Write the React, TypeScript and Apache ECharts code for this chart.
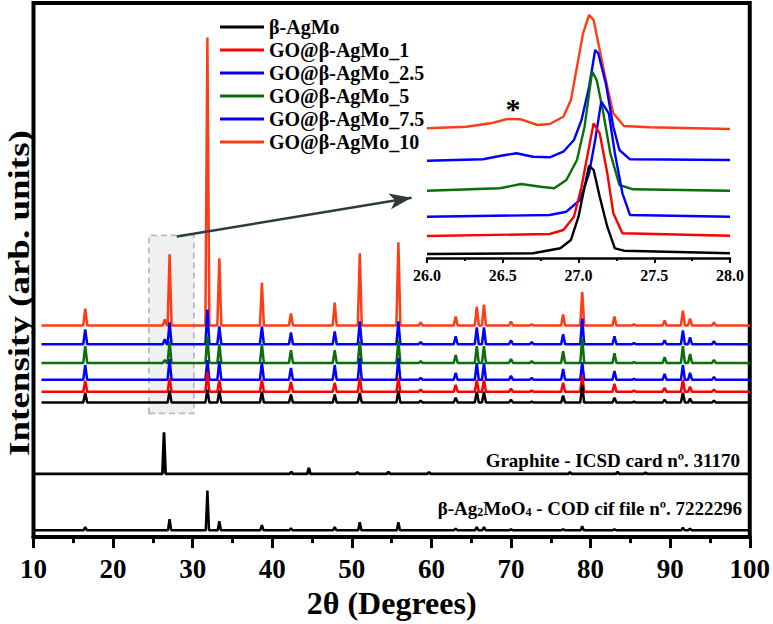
import React, { useEffect, useRef } from 'react';
import * as echarts from 'echarts';

const FONT = '"Liberation Serif", "Times New Roman", serif';

// ---------- legend / series ----------
const seriesNames = ['β-AgMo', 'GO@β-AgMo_1', 'GO@β-AgMo_2.5', 'GO@β-AgMo_5', 'GO@β-AgMo_7.5', 'GO@β-AgMo_10'];
const seriesColors = ['#000000', '#ff0000', '#0000ff', '#0a6e0a', '#0000ff', '#ff3c14'];
// vertical stacking offsets of each pattern (arb. units)
const stackOffsets = [136, 147, 159, 176, 195, 214];

// ---------- main patterns: peak positions (2θ) and heights ----------
const peakPositions = [16.5, 26.5, 27.1, 31.85, 33.35, 38.7, 42.35, 47.85, 51.0, 55.85, 58.65, 63.05, 65.7, 66.6, 70.0, 72.6, 76.55, 78.95, 83.0, 85.45, 89.3, 91.6, 92.5, 95.5];
const hAgMo = [10, 0, 12, 13, 12, 11, 8, 8, 10, 12, 2, 5, 11, 11, 3, 1, 7, 18, 5, 1, 3, 10, 4, 2];
const hGO1 = [11, 0, 14, 20, 12, 12, 10, 9, 14, 14, 2, 7, 12, 12, 3, 1, 9, 16, 8, 1, 4, 12, 5, 2];
const hGO25 = [15, 0, 21, 20, 19, 18, 12, 15, 22, 22, 2, 7, 17, 17, 4, 2, 11, 18, 9, 1, 6, 15, 7, 3];
const hGO5 = [17, 3, 22, 27, 19, 19, 13, 13, 22, 23, 2, 8, 17, 17, 4, 2, 12, 25, 10, 1, 6, 17, 9, 3];
const hGO75 = [15, 5, 22, 35, 18, 18, 12, 13, 23, 23, 2, 8, 17, 17, 4, 2, 10, 26, 8, 1, 4, 14, 7, 3];
const hGO10 = [17, 6, 72, 291, 68, 43, 12, 23, 73, 84, 3, 9, 19, 21, 4, 1, 11, 34, 9, 1, 5, 15, 7, 3];
const sampleHeights = [hAgMo, hGO1, hGO25, hGO5, hGO75, hGO10];

// ---------- reference patterns ----------
const graphiteOffset = 64;
const graphitePositions = [26.4, 42.4, 44.6, 50.7, 54.6, 59.7, 77.4, 83.4, 86.9];
const graphiteHeights = [42, 2, 6, 1.5, 2, 1.5, 1.5, 2, 1];
const codOffset = 7;
const codPositions = [16.5, 27.1, 31.85, 33.35, 38.7, 42.35, 47.85, 51.0, 55.85, 63.05, 65.7, 66.6, 70.0, 76.55, 78.95, 83.0, 91.6, 92.5];
const codHeights = [3, 11, 40, 9, 5, 2, 3, 8, 8, 1.5, 3, 3, 1, 1, 4, 1, 2.5, 1.5];

// ---------- inset (26–28°) profiles ----------
const insetAgMo = [[26.0, 4], [26.7, 4.7], [26.88, 9.7], [26.95, 18], [27.0, 41.3], [27.04, 71.3], [27.07, 92.3], [27.1, 88], [27.14, 61.3], [27.19, 31.3], [27.24, 9.7], [27.3, 7.3], [28.0, 4.7]];
const insetGO1 = [[26.0, 22], [26.81, 24], [26.9, 28], [26.97, 41.3], [27.02, 71.3], [27.07, 111.3], [27.1, 134.7], [27.14, 124.7], [27.19, 84.7], [27.23, 44.7], [27.29, 24.7], [28.0, 22.3]];
const insetGO25 = [[26.0, 41.3], [26.81, 43], [26.92, 46.3], [27.01, 58], [27.07, 84.7], [27.11, 118], [27.15, 156.3], [27.2, 144.7], [27.24, 104.7], [27.29, 64.7], [27.34, 43], [28.0, 41.3]];
const insetGO5 = [[26.0, 67.3], [26.48, 69.7], [26.62, 74], [26.75, 71.3], [26.84, 69.7], [26.92, 78], [26.99, 98], [27.04, 131.3], [27.09, 186.3], [27.12, 178], [27.16, 148], [27.21, 104.7], [27.27, 73], [27.36, 68.7], [28.0, 67.3]];
const insetGO75 = [[26.0, 97.3], [26.37, 98.7], [26.48, 102], [26.59, 104.7], [26.7, 101.3], [26.81, 100.7], [26.9, 106.3], [26.97, 118], [27.02, 138], [27.07, 171.3], [27.11, 208], [27.13, 204.7], [27.18, 174.7], [27.23, 131.3], [27.27, 108], [27.34, 98.7], [28.0, 98]];
const insetGO10 = [[26.0, 129.7], [26.26, 131.3], [26.42, 134.7], [26.53, 139], [26.62, 138.7], [26.73, 133], [26.81, 134], [26.9, 141.3], [26.95, 158], [26.99, 191.3], [27.03, 224.7], [27.07, 243], [27.1, 238], [27.14, 208], [27.19, 171.3], [27.23, 144.7], [27.3, 132], [27.47, 130.7], [28.0, 129]];
const insetProfiles = [insetAgMo, insetGO1, insetGO25, insetGO5, insetGO75, insetGO10];

// ---------- annotations (data coordinates of the main plot) ----------
const zoomBox = [[24.5, 125], [30.15, 305]];
const arrowLine = [[28.0, 304], [57.5, 343]];

function buildPattern(positions: number[], heights: number[], offset: number, start: number, end: number, hw: number) {
  const pts: number[][] = [[start, offset]];
  positions.forEach((p, i) => {
    const h = heights[i];
    if (h > 0) {
      pts.push([p - hw, offset], [p, offset + h], [p + hw, offset]);
    }
  });
  pts.push([end, offset]);
  return pts;
}

export default function App() {
  const ref = useRef<HTMLDivElement>(null);
  useEffect(() => {
    if (!ref.current) return;
    const chart = echarts.init(ref.current, undefined, { renderer: 'svg' });

    const order = [5, 4, 3, 2, 1, 0]; // upper patterns first, lower drawn on top
    const mainSeries: any[] = order.map((i) => ({
      name: seriesNames[i],
      type: 'line',
      xAxisIndex: 0,
      yAxisIndex: 0,
      showSymbol: false,
      silent: true,
      color: seriesColors[i],
      lineStyle: { color: seriesColors[i], width: 2.5 },
      data: buildPattern(peakPositions, sampleHeights[i], stackOffsets[i], 11, 100, 0.25),
      z: 3,
    }));
    const insetSeries: any[] = order.map((i) => ({
      name: seriesNames[i],
      type: 'line',
      xAxisIndex: 1,
      yAxisIndex: 1,
      showSymbol: false,
      silent: true,
      color: seriesColors[i],
      lineStyle: { color: seriesColors[i], width: 2.4 },
      data: insetProfiles[i],
      z: 3,
    }));

    const option: any = {
      animation: false,
      backgroundColor: '#ffffff',
      textStyle: { fontFamily: FONT },
      grid: [
        { left: 33.5, right: 23, top: 3, bottom: 81, show: true, borderColor: '#000', borderWidth: 4, backgroundColor: 'transparent' },
        { left: 427, right: 43, top: 8, bottom: 366, show: false },
      ],
      legend: {
        data: seriesNames,
        orient: 'vertical',
        left: 215,
        top: 12,
        itemWidth: 44,
        itemHeight: 3,
        itemGap: 3,
        icon: 'rect',
        selectedMode: false,
        textStyle: { fontFamily: FONT, fontSize: 20, fontWeight: 'bold', color: '#000', lineHeight: 20 },
      },
      xAxis: [
        {
          type: 'value', gridIndex: 0, min: 10, max: 100, interval: 10,
          axisLine: { show: true, lineStyle: { color: '#000', width: 4 } },
          axisTick: { show: true, inside: false, length: 11, lineStyle: { color: '#000', width: 3 } },
          minorTick: { show: true, splitNumber: 2, length: 6, lineStyle: { color: '#000', width: 3 } },
          splitLine: { show: false },
          axisLabel: { fontFamily: FONT, fontSize: 27, fontWeight: 'bold', color: '#000', margin: 18 },
          name: '2θ (Degrees)', nameLocation: 'middle', nameGap: 45,
          nameTextStyle: { fontFamily: FONT, fontSize: 32, fontWeight: 'bold', color: '#000' },
        },
        {
          type: 'value', gridIndex: 1, min: 26, max: 28, interval: 0.5,
          axisLine: { show: true, lineStyle: { color: '#000', width: 2.5 } },
          axisTick: { show: true, inside: false, length: 5, lineStyle: { color: '#000', width: 2 } },
          minorTick: { show: true, splitNumber: 2, length: 3, lineStyle: { color: '#000', width: 2 } },
          splitLine: { show: false },
          axisLabel: { fontFamily: FONT, fontSize: 16, fontWeight: 'bold', color: '#000', margin: 9, formatter: (v: number) => v.toFixed(1) },
        },
      ],
      yAxis: [
        { type: 'value', gridIndex: 0, min: 0, max: 540, show: false },
        { type: 'value', gridIndex: 1, min: 0, max: 250, show: false },
      ],
      graphic: [
        {
          type: 'text', x: 19, y: 293, rotation: Math.PI / 2, scaleY: 0.82,
          style: { text: 'Intensity (arb. units)', fontFamily: FONT, fontSize: 37, fontWeight: 'bold', fill: '#000', align: 'center', verticalAlign: 'middle' },
        },
        {
          type: 'text', x: 740, y: 460,
          style: { text: 'Graphite - ICSD card nº. 31170', fontFamily: FONT, fontSize: 19, fontWeight: 'bold', fill: '#000', align: 'right', verticalAlign: 'middle' },
        },
        {
          type: 'text', x: 742, y: 507,
          style: {
            text: '{n|β-Ag}{s|2}{n|MoO}{s|4}{n| - COD cif file nº. 7222296}',
            align: 'right', verticalAlign: 'middle', fill: '#000',
            rich: {
              n: { fontFamily: FONT, fontSize: 19, fontWeight: 'bold', fill: '#000', lineHeight: 22, verticalAlign: 'bottom' },
              s: { fontFamily: FONT, fontSize: 12, fontWeight: 'bold', fill: '#000', lineHeight: 12, verticalAlign: 'bottom' },
            },
          },
        },
        {
          type: 'text', x: 513, y: 108,
          style: { text: '*', fontFamily: FONT, fontSize: 30, fontWeight: 'bold', fill: '#000', align: 'center', verticalAlign: 'middle' },
        },
      ],
      series: [
        {
          type: 'line', name: 'annotations', xAxisIndex: 0, yAxisIndex: 0, data: [], z: 1, silent: true,
          markArea: {
            silent: true,
            itemStyle: { color: '#f0f0f0', borderColor: '#b3bdbd', borderWidth: 1.8, borderType: [6, 4] },
            data: [[{ coord: zoomBox[0] }, { coord: zoomBox[1] }]],
          },
          markLine: {
            silent: true,
            symbol: ['none', 'arrow'],
            symbolSize: [12, 22],
            label: { show: false },
            lineStyle: { color: '#2d3b3b', width: 2.5, type: 'solid' },
            data: [[{ coord: arrowLine[0] }, { coord: arrowLine[1] }]],
          },
        },
        ...mainSeries,
        {
          name: 'Graphite - ICSD 31170', type: 'line', xAxisIndex: 0, yAxisIndex: 0, showSymbol: false, silent: true,
          lineStyle: { color: '#000', width: 2.8 }, color: '#000',
          data: buildPattern(graphitePositions, graphiteHeights, graphiteOffset, 10, 100, 0.2), z: 3,
        },
        {
          name: 'β-Ag2MoO4 - COD 7222296', type: 'line', xAxisIndex: 0, yAxisIndex: 0, showSymbol: false, silent: true,
          lineStyle: { color: '#000', width: 2.5 }, color: '#000',
          data: buildPattern(codPositions, codHeights, codOffset, 10, 100, 0.2), z: 3,
        },
        ...insetSeries,
      ],
    };
    chart.setOption(option);
    return () => chart.dispose();
  }, []);

  return <div ref={ref} style={{ position: 'absolute', left: 0, top: 0, width: 773, height: 624 }} />;
}
